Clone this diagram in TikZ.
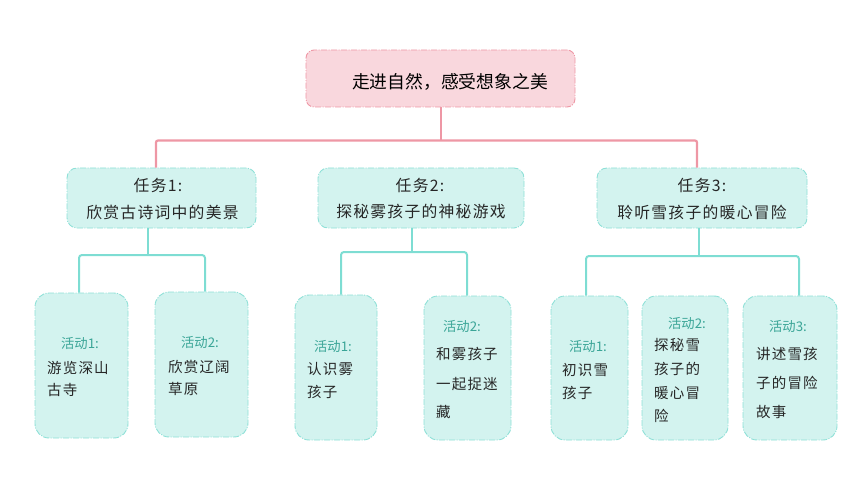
\documentclass[tikz,border=0pt]{standalone}
\usepackage{fontspec}
\newfontfamily\cjk{Noto Sans CJK SC}
\newfontfamily\cjkk[LetterSpace=8]{Noto Sans CJK SC}
\definecolor{pinkfill}{HTML}{F9D7DD}
\definecolor{pinkline}{HTML}{EE97A5}
\definecolor{tealfill}{HTML}{D3F3EF}
\definecolor{tealline}{HTML}{8EE0D7}
\definecolor{tealconn}{HTML}{7EDDD3}
\definecolor{labelteal}{HTML}{3AA597}
\tikzset{
  boxdash/.style={dash pattern=on 6pt off 1.5pt on 1pt off 1.5pt, line width=0.9pt},
  rootbox/.style={boxdash, draw=pinkline, fill=pinkfill, rounded corners=8pt},
  taskbox/.style={boxdash, draw=tealline, fill=tealfill, rounded corners=10pt},
  actbox/.style={boxdash, draw=tealline, fill=tealfill, rounded corners=14pt},
  pinkconn/.style={draw=pinkline, line width=2.2pt, rounded corners=2pt},
  tealconn/.style={draw=tealconn, line width=2pt, rounded corners=3pt},
  roottext/.style={font=\cjk\fontsize{17.8}{20}\selectfont, text=black, inner sep=0pt},
  tasktext/.style={font=\cjkk\fontsize{15.8}{18}\selectfont, text=black!85, inner sep=0pt},
  acttext/.style={font=\cjkk\fontsize{14.5}{17}\selectfont, text=black!85, inner sep=0pt, anchor=west},
  actlabel/.style={font=\cjk\fontsize{13.3}{15}\selectfont, text=labelteal, inner sep=0pt},
}
\begin{document}
\begin{tikzpicture}[x=1pt,y=-1pt]
\useasboundingbox (0,0) rectangle (860,484);
% boxes
\node[rootbox, minimum width=269pt, minimum height=57pt] (root) at (440.5,78.5) {};
\node[taskbox, minimum width=189pt, minimum height=60pt] (t1) at (161.5,198) {};
\node[taskbox, minimum width=206pt, minimum height=60pt] (t2) at (421,198) {};
\node[taskbox, minimum width=210pt, minimum height=60pt] (t3) at (702,198) {};
\node[actbox, minimum width=93pt, minimum height=145pt] (a11) at (81.5,365.5) {};
\node[actbox, minimum width=93pt, minimum height=145pt] (a12) at (201.5,364.5) {};
\node[actbox, minimum width=82pt, minimum height=145pt] (a21) at (336,367.5) {};
\node[actbox, minimum width=87pt, minimum height=144pt] (a22) at (467.5,368) {};
\node[actbox, minimum width=77pt, minimum height=144pt] (a31) at (589.5,368) {};
\node[actbox, minimum width=86pt, minimum height=144pt] (a32) at (685,368) {};
\node[actbox, minimum width=94pt, minimum height=144pt] (a33) at (790,368) {};
% connectors
\coordinate (rj) at (441,140.5);
\draw[pinkconn] (root.south -| rj) -- (rj);
\draw[pinkconn] (t1.north -| 156,0) -- (156,140.5) -- (697,140.5) -- (t3.north -| 697,0);
\coordinate (j1) at (148,255);
\draw[tealconn] (t1.south -| j1) -- (j1);
\draw[tealconn] (a11.north -| 79,0) -- (79,255) -- (205,255) -- (a12.north -| 205,0);
\coordinate (j2) at (412,252);
\draw[tealconn] (t2.south -| j2) -- (j2);
\draw[tealconn] (a21.north -| 341,0) -- (341,252) -- (467,252) -- (a22.north -| 467,0);
\coordinate (j3) at (699,256);
\draw[tealconn] (t3.south -| j3) -- (j3);
\draw[tealconn] (a31.north -| 586,0) -- (586,256) -- (799,256) -- (a33.north -| 799,0);
% texts
\node[roottext] (rt) at (450,82) {走进自然，感受想象之美};
\node[tasktext] (t1a) at (158,185.5) {任务1:};
\node[tasktext] (t1b) at (162.5,212) {欣赏古诗词中的美景};
\node[tasktext] (t2a) at (420,185.5) {任务2:};
\node[tasktext] (t2b) at (421,211) {探秘雾孩子的神秘游戏};
\node[tasktext] (t3a) at (702,185.5) {任务3:};
\node[tasktext] (t3b) at (702,212) {聆听雪孩子的暖心冒险};
% activity 1-1
\node[actlabel] (l11) at (80,343) {活动1:};
\node[acttext] (a11x) at (47,368) {游览深山};
\node[acttext] (a11y) at (47,390) {古寺};
% activity 1-2
\node[actlabel] (l12) at (200,342) {活动2:};
\node[acttext] (a12x) at (168,367) {欣赏辽阔};
\node[acttext] (a12y) at (168,389) {草原};
% activity 2-1
\node[actlabel] (l21) at (333,346) {活动1:};
\node[acttext] (a21x) at (307,369) {认识雾};
\node[acttext] (a21y) at (307,392) {孩子};
% activity 2-2
\node[actlabel] (l22) at (462,326) {活动2:};
\node[acttext] (a22x) at (436,354) {和雾孩子};
\node[acttext] (a22y) at (436,384) {一起捉迷};
\node[acttext] (a22z) at (436,412) {藏};
% activity 3-1
\node[actlabel] (l31) at (588,346) {活动1:};
\node[acttext] (a31x) at (562,370) {初识雪};
\node[acttext] (a31y) at (562,393) {孩子};
% activity 3-2
\node[actlabel] (l32) at (687,323) {活动2:};
\node[acttext] (a32x) at (654,345) {探秘雪};
\node[acttext] (a32y) at (654,369) {孩子的};
\node[acttext] (a32z) at (654,393) {暖心冒};
\node[acttext] (a32w) at (654,416) {险};
% activity 3-3
\node[actlabel] (l33) at (788,326) {活动3:};
\node[acttext] (a33x) at (756,354) {讲述雪孩};
\node[acttext] (a33y) at (756,383) {子的冒险};
\node[acttext] (a33z) at (756,412) {故事};
\end{tikzpicture}
\end{document}
